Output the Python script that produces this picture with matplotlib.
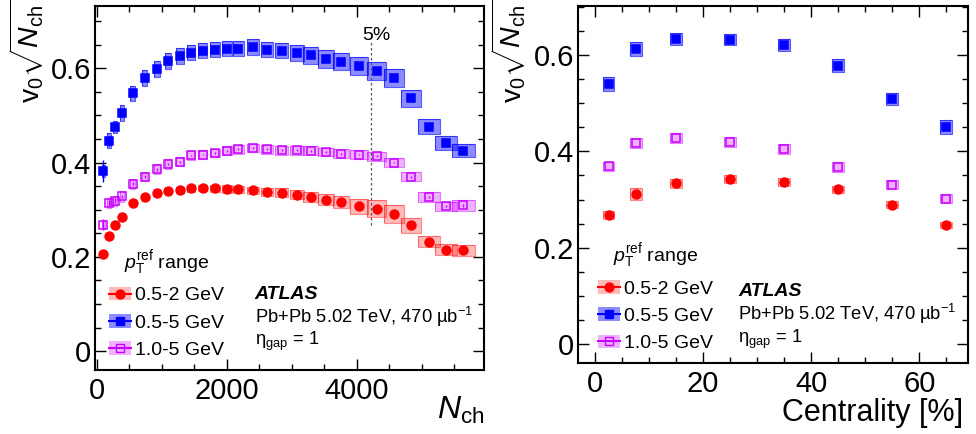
import matplotlib.pyplot as plt
from matplotlib.patches import Rectangle, Patch
from matplotlib.lines import Line2D
from matplotlib.ticker import MultipleLocator

plt.rcParams['font.family'] = ['Liberation Sans', 'DejaVu Sans']
plt.rcParams['mathtext.fontset'] = 'custom'
plt.rcParams['mathtext.rm'] = 'Liberation Sans'
plt.rcParams['mathtext.it'] = 'Liberation Sans:italic'
plt.rcParams['mathtext.bf'] = 'Liberation Sans:bold'

# ---- left panel: v0*sqrt(Nch) vs Nch ----
nch = [102, 189, 282, 394, 558, 738, 923, 1097, 1282, 1451, 1631, 1820, 2000, 2179,
       2410, 2625, 2846, 3077, 3292, 3528, 3763, 4035, 4308, 4574, 4840, 5112, 5374, 5640]

red_v = [0.206, 0.245, 0.268, 0.285, 0.314, 0.326, 0.336, 0.340, 0.342, 0.345, 0.346, 0.345,
         0.344, 0.343, 0.341, 0.338, 0.336, 0.332, 0.327, 0.321, 0.316, 0.307, 0.302, 0.291,
         0.267, 0.232, 0.215, 0.214]
red_stat = [0.004, 0.003, 0.003, 0.002, 0.002, 0.002, 0.002, 0.002, 0.002, 0.002, 0.002, 0.002,
            0.002, 0.002, 0.002, 0.002, 0.002, 0.002, 0.002, 0.002, 0.002, 0.002, 0.002, 0.002,
            0.002, 0.002, 0.002, 0.002]
red_sys = [0.006, 0.006, 0.006, 0.006, 0.007, 0.007, 0.007, 0.007, 0.007, 0.007, 0.007, 0.007,
           0.008, 0.008, 0.008, 0.009, 0.009, 0.010, 0.011, 0.012, 0.013, 0.016, 0.018, 0.019,
           0.016, 0.012, 0.012, 0.012]

blue_v = [0.382, 0.446, 0.476, 0.505, 0.547, 0.580, 0.599, 0.615, 0.626, 0.633, 0.637, 0.639,
          0.641, 0.641, 0.645, 0.639, 0.637, 0.633, 0.628, 0.620, 0.614, 0.605, 0.594, 0.579,
          0.536, 0.476, 0.441, 0.425]
blue_stat = [0.023, 0.010, 0.008, 0.007, 0.006, 0.005, 0.004, 0.004, 0.003, 0.003, 0.003, 0.003,
             0.003, 0.003, 0.003, 0.003, 0.003, 0.003, 0.003, 0.003, 0.003, 0.003, 0.003, 0.003,
             0.003, 0.003, 0.003, 0.003]
blue_sys = [0.012, 0.016, 0.013, 0.016, 0.016, 0.017, 0.017, 0.017, 0.017, 0.016, 0.016, 0.016,
            0.016, 0.016, 0.016, 0.016, 0.016, 0.017, 0.018, 0.019, 0.018, 0.019, 0.019, 0.019,
            0.018, 0.016, 0.015, 0.014]

mag_v = [0.268, 0.314, 0.319, 0.328, 0.355, 0.370, 0.386, 0.397, 0.402, 0.415, 0.417, 0.420,
         0.425, 0.428, 0.431, 0.428, 0.426, 0.426, 0.425, 0.422, 0.419, 0.417, 0.413, 0.400,
         0.370, 0.327, 0.307, 0.309]
mag_stat = [0.012, 0.006, 0.005, 0.004, 0.003, 0.003, 0.003, 0.002, 0.002, 0.002, 0.002, 0.002,
            0.002, 0.002, 0.002, 0.002, 0.002, 0.002, 0.002, 0.002, 0.002, 0.002, 0.002, 0.002,
            0.002, 0.002, 0.002, 0.003]
mag_sys = [0.010, 0.011, 0.011, 0.011, 0.011, 0.010, 0.010, 0.010, 0.009, 0.009, 0.009, 0.009,
           0.009, 0.009, 0.009, 0.009, 0.009, 0.009, 0.009, 0.009, 0.009, 0.009, 0.010, 0.010,
           0.010, 0.010, 0.010, 0.011]

nch_5pct = 4220   # Nch at 5% centrality
line_5pct_range = (0.268, 0.655)

# ---- right panel: v0*sqrt(Nch) vs centrality ----
cent = [2.5, 7.5, 15, 25, 35, 45, 55, 65]
red_c = [0.268, 0.311, 0.334, 0.342, 0.336, 0.321, 0.289, 0.247]
red_c_sys = [0.008, 0.012, 0.009, 0.008, 0.008, 0.008, 0.007, 0.007]
blue_c = [0.540, 0.613, 0.633, 0.632, 0.621, 0.578, 0.509, 0.451]
blue_c_sys = [0.014, 0.015, 0.013, 0.012, 0.012, 0.013, 0.012, 0.014]
mag_c = [0.369, 0.417, 0.428, 0.420, 0.405, 0.367, 0.331, 0.302]
mag_c_sys = [0.009, 0.010, 0.010, 0.010, 0.010, 0.010, 0.010, 0.010]

labels = ['0.5-2 GeV', '0.5-5 GeV', '1.0-5 GeV']
RED, BLUE, MAG = '#ff0000', '#0000ff', '#c800ff'
styles = [
    dict(color=RED, marker='o', ms=6.4, mfc=RED, alpha=0.27),
    dict(color=BLUE, marker='s', ms=6.0, mfc=BLUE, alpha=0.45),
    dict(color=MAG, marker='s', ms=5.2, mfc='none', alpha=0.3),
]

LABEL_FS = 21
TEXT_FS = 14


def draw_series(ax, x, y, stat, sys, halfw, st):
    for xi, yi, si, hw in zip(x, y, sys, halfw):
        ax.add_patch(Rectangle((xi - hw, yi - si), 2 * hw, 2 * si,
                               facecolor=st['color'], alpha=st['alpha'],
                               edgecolor='none', zorder=2))
        ax.add_patch(Rectangle((xi - hw, yi - si), 2 * hw, 2 * si,
                               facecolor='none', edgecolor=st['color'],
                               alpha=min(1, st['alpha'] + 0.2), lw=0.8, zorder=2))
    ax.errorbar(x, y, yerr=stat, fmt=st['marker'], color=st['color'], ms=st['ms'],
                mfc=st['mfc'], mec=st['color'], mew=1.1, elinewidth=1.0,
                capsize=0, zorder=3)


def style_axes(ax):
    for s in ax.spines.values():
        s.set_linewidth(1.5)
    ax.tick_params(which='both', direction='in', top=True, right=True,
                   labelsize=LABEL_FS, width=1.0)
    ax.tick_params(which='major', length=8)
    ax.tick_params(which='minor', length=4)
    ax.tick_params(axis='y', pad=3)
    ax.tick_params(axis='x', pad=5)
    ax.yaxis.set_major_locator(MultipleLocator(0.2))
    ax.yaxis.set_minor_locator(MultipleLocator(0.05))
    ax.yaxis.set_major_formatter(plt.FuncFormatter(lambda v, p: '0' if abs(v) < 1e-9 else f'{v:.1f}'))


def add_legend(ax, anchor):
    handles = []
    for st in styles:
        box = Patch(facecolor=st['color'], alpha=st['alpha'], edgecolor='none')
        ln = Line2D([], [], color=st['color'], marker=st['marker'], ms=st['ms'],
                    mfc=st['mfc'], mec=st['color'], lw=1.5)
        handles.append((box, ln))
    leg = ax.legend(handles, labels, title=r'$p_\mathrm{T}^\mathrm{ref}$ range',
                    loc='lower left', bbox_to_anchor=anchor, frameon=False,
                    fontsize=TEXT_FS, title_fontsize=TEXT_FS, handlelength=1.15,
                    handleheight=0.7, handletextpad=0.2, labelspacing=0.5,
                    borderpad=0, borderaxespad=0)
    return leg


def add_atlas(ax, x, ys):
    ax.text(x, ys[0], 'ATLAS', transform=ax.transAxes, fontsize=TEXT_FS,
            fontweight='bold', fontstyle='italic', va='center')
    ax.text(x, ys[1], 'Pb+Pb 5.02 TeV, 470 \u00b5b$^{-1}$', transform=ax.transAxes,
            fontsize=13.2, va='center')
    ax.text(x, ys[2], '\u03b7$_{\\mathrm{gap}}$ = 1', transform=ax.transAxes,
            fontsize=13.2, va='center')


fig = plt.figure(figsize=(9.76, 4.34), dpi=100)
ax1 = fig.add_axes([0.0973, 0.1475, 0.3986, 0.8376])
ax2 = fig.add_axes([0.5925, 0.1629, 0.3993, 0.8233])

series_left = [(red_v, red_stat, red_sys), (blue_v, blue_stat, blue_sys),
               (mag_v, mag_stat, mag_sys)]
halfw_left = [21 + 0.028 * n for n in nch]
for (v, st_err, sy), st in zip(series_left, styles):
    draw_series(ax1, nch, v, st_err, sy, halfw_left, st)

series_right = [(red_c, red_c_sys), (blue_c, blue_c_sys), (mag_c, mag_c_sys)]
halfw_right = [1.1] * len(cent)
for (v, sy), st in zip(series_right, styles):
    draw_series(ax2, cent, v, [0] * len(cent), sy, halfw_right, st)

ax1.vlines(nch_5pct, *line_5pct_range, colors='#555555', linestyles=(0, (2, 2)), lw=0.9)
ax1.text(nch_5pct + 90, 0.67, '5%', fontsize=TEXT_FS, ha='center', va='center')

ax1.set_xlim(-25, 5960)
ax1.set_ylim(-0.04, 0.731)
ax1.xaxis.set_major_locator(MultipleLocator(2000))
ax1.xaxis.set_minor_locator(MultipleLocator(500))
style_axes(ax1)

ax2.set_xlim(-3.1, 69)
ax2.set_ylim(-0.04, 0.702)
ax2.xaxis.set_major_locator(MultipleLocator(20))
ax2.xaxis.set_minor_locator(MultipleLocator(5))
style_axes(ax2)

ylab = r'$\mathrm{v}_0\sqrt{N_\mathrm{ch}}$'
ax1.text(-0.175, 1.018, ylab, transform=ax1.transAxes, rotation=90, ha='center',
         va='top', fontsize=20.5)
ax2.text(-0.178, 1.017, ylab, transform=ax2.transAxes, rotation=90, ha='center',
         va='top', fontsize=20.5)
ax1.text(1.0, -0.069, r'$N_\mathrm{ch}$', transform=ax1.transAxes, ha='right',
         va='top', fontsize=23)
ax2.text(0.987, -0.097, 'Centrality [%]', transform=ax2.transAxes, ha='right',
         va='top', fontsize=22)

add_legend(ax1, (0.036, 0.03))
add_legend(ax2, (0.05, 0.031))
add_atlas(ax1, 0.411, (0.208, 0.146, 0.080))
add_atlas(ax2, 0.41, (0.200, 0.139, 0.068))

fig.savefig('out.png', dpi=100)
